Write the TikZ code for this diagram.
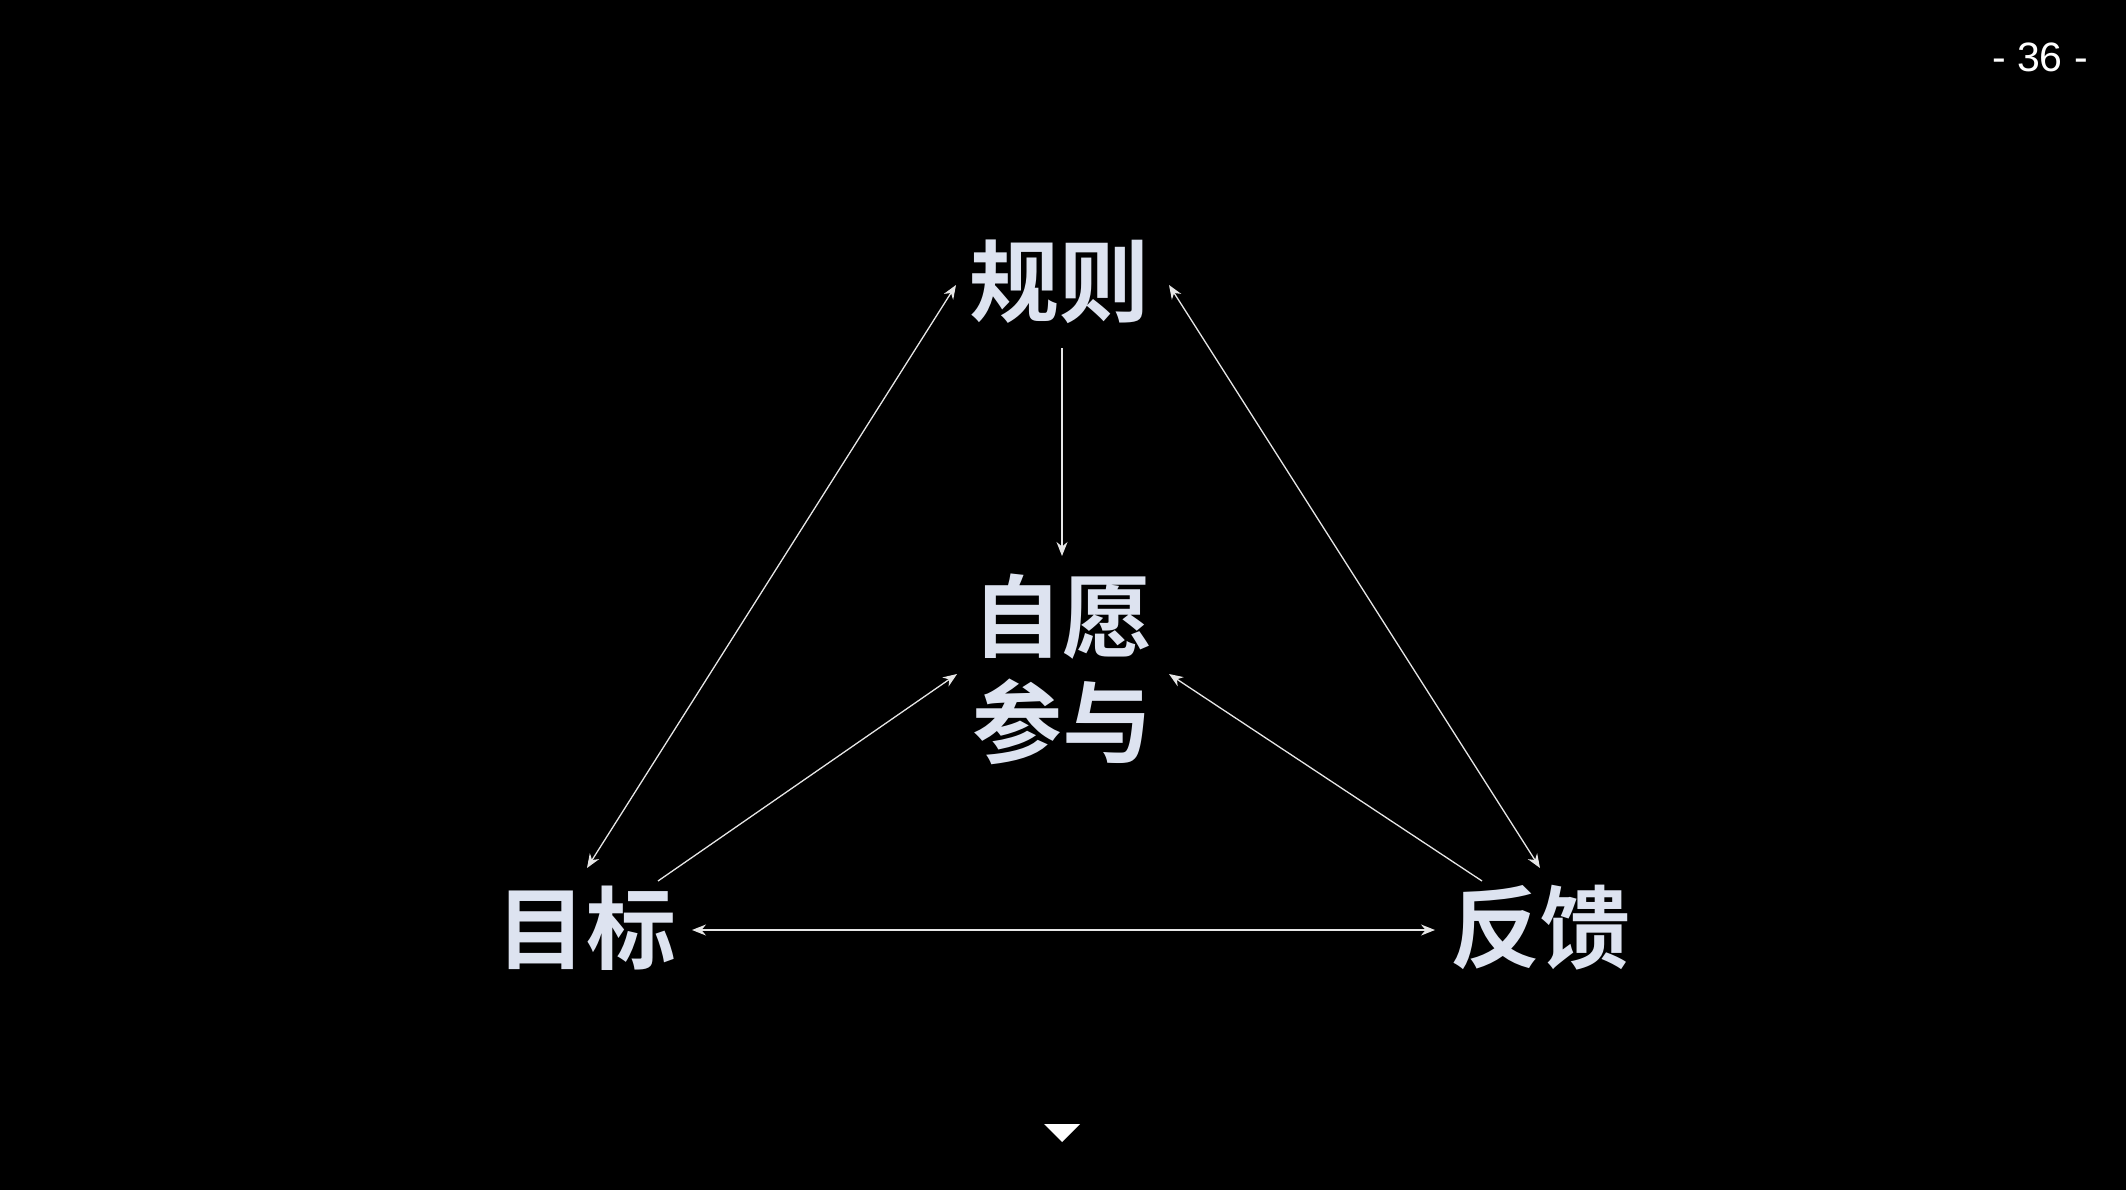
\documentclass[tikz,border=0pt]{standalone}
\usepackage{fontspec}
\newfontfamily\cjk{Noto Sans CJK SC}[BoldFont={Noto Sans CJK SC Bold}]
\setsansfont{Liberation Sans}
\usetikzlibrary{arrows.meta}
\definecolor{txt}{HTML}{DDE3F0}
\definecolor{ln}{HTML}{E6E6E6}
\tikzset{
  word/.style={text=txt, font=\cjk\bfseries\fontsize{90}{106}\selectfont, inner sep=0pt, align=center},
  link/.style={draw=ln, line width=1.3pt, -{Stealth[length=14pt,width=11pt]}},
  dlink/.style={draw=ln, line width=1.3pt, {Stealth[length=14pt,width=11pt]}-{Stealth[length=14pt,width=11pt]}},
}
\begin{document}
\begin{tikzpicture}[x=1pt,y=-1pt]
\fill[black] (0,0) rectangle (2126,1190);
\useasboundingbox (0,0) rectangle (2126,1190);
% nodes
\node[word] (gz) at (1059,282) {规则};
\node[word] (zy) at (1062,669) {自愿\\参与};
\node[word] (mb) at (586,928) {目标};
\node[word] (fk) at (1540,928) {反馈};
\node[text=white, font=\sffamily\fontsize{41}{43}\selectfont, inner sep=0pt] (pg) at (2040,57) {- 36 -};
% connector ends
\coordinate (gzS) at (1062,348);
\coordinate (zyN) at (1062,556);
\coordinate (gzW) at (956,285);
\coordinate (mbN) at (587,868);
\coordinate (gzE) at (1169,285);
\coordinate (fkN) at (1540,868);
\coordinate (mbNE) at (658,881);
\coordinate (zyW) at (957,674);
\coordinate (fkNW) at (1482,881);
\coordinate (zyE) at (1169,674);
\coordinate (mbE) at (692,930);
\coordinate (fkW) at (1435,930);
\draw[link] (gzS) -- (zyN);
\draw[dlink] (gzW) -- (mbN);
\draw[dlink] (gzE) -- (fkN);
\draw[link] (mbNE) -- (zyW);
\draw[link] (fkNW) -- (zyE);
\draw[dlink] (mbE) -- (fkW);
% bottom marker
\fill[white] (1044,1124) coordinate (t1) -- (1080,1124) coordinate (t2) -- (1062,1142) coordinate (t3) -- cycle;
\end{tikzpicture}
\end{document}
